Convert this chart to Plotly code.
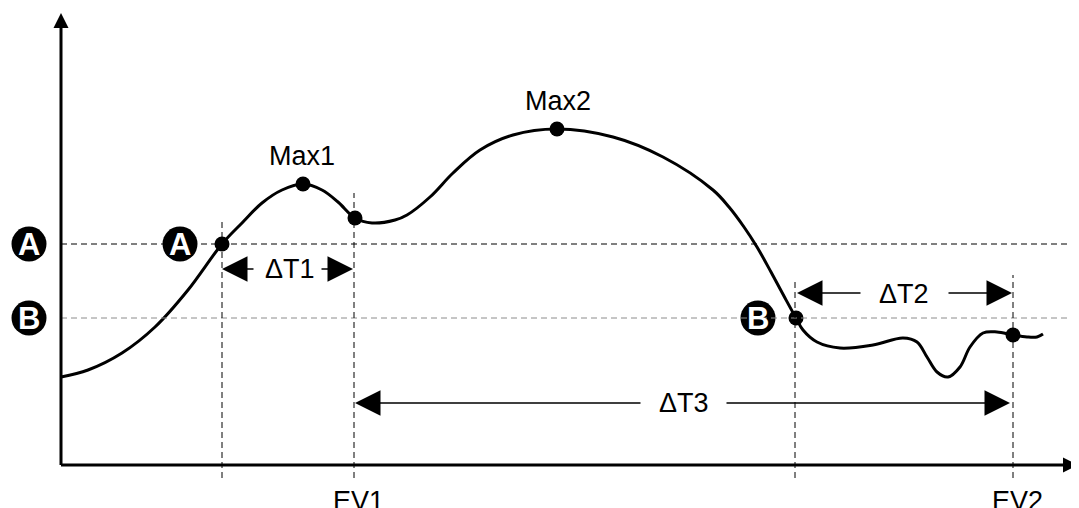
import plotly.graph_objects as go

# curve (time, level)
curve_t = [0, 27, 61, 94, 127, 161, 181, 201, 221, 242, 261, 277, 294, 311, 334, 346, 369, 392,
           419, 452, 496, 552, 602, 652, 668, 683, 696, 710, 724, 735, 742, 756, 779, 812, 842,
           856, 866, 876, 887, 899, 909, 922, 936, 952, 966, 976, 982]
curve_v = [88, 95, 112, 138, 175, 221, 242, 262, 275, 281, 275, 263, 247, 242, 245, 250, 268, 292,
           315, 330, 336, 328, 308, 275, 258, 238, 218, 193, 167, 147, 135, 123, 117, 120, 127,
           123, 108, 93, 88, 98, 118, 132, 133, 130, 128, 128, 131]

# marked points
dot_t = [161, 242, 294, 496, 735, 952]
dot_v = [221, 281, 247, 336, 147, 130]

level_a = 221
level_b = 147
ev_lines = [(161, 245), (293, 272), (734, 185), (952, 190)]

badge_t = [-32, 119, -32, 697]
badge_v = [221, 221, 147, 147]
badge_txt = ["A", "A", "B", "B"]

FONT = "Liberation Sans, Arial, sans-serif"

fig = go.Figure()

# dashed level lines
fig.add_shape(type="line", x0=0, x1=1018, y0=level_a, y1=level_a,
              line=dict(color="black", width=1, dash="6px,4px"))
fig.add_shape(type="line", x0=0, x1=1018, y0=level_b, y1=level_b,
              line=dict(color="#8c8c8c", width=1, dash="6px,4px"))

# vertical event lines
for t, top in ev_lines:
    fig.add_shape(type="line", x0=t, x1=t, y0=-13, y1=top,
                  line=dict(color="black", width=1, dash="6px,4px"))

# curve
fig.add_trace(go.Scatter(x=curve_t, y=curve_v, mode="lines",
                         line=dict(color="black", width=3, shape="spline", smoothing=1.0),
                         hoverinfo="skip"))

fig.add_trace(go.Scatter(x=dot_t, y=dot_v, mode="markers",
                         marker=dict(color="black", size=15), hoverinfo="skip"))

# badges
fig.add_trace(go.Scatter(x=badge_t, y=badge_v, mode="markers",
                         marker=dict(color="black", size=35), hoverinfo="skip"))
for txt, t, v in zip(badge_txt, badge_t, badge_v):
    fig.add_annotation(x=t, y=v, text="<b>" + txt + "</b>", showarrow=False,
                       xref="x", yref="y",
                       font=dict(size=31, color="white", family="Arial, sans-serif"))

# axes with arrows
fig.add_annotation(x=0, y=452, ax=0, ay=-1.5, xref="x", yref="y", axref="x", ayref="y",
                   text="", showarrow=True, arrowhead=2, arrowwidth=3, arrowsize=1,
                   arrowcolor="black")
fig.add_annotation(x=1017, y=0, ax=-1.5, ay=0, xref="x", yref="y", axref="x", ayref="y",
                   text="", showarrow=True, arrowhead=2, arrowwidth=3, arrowsize=1,
                   arrowcolor="black")

# delta arrows: (head, tail, level)
arrows = [(161, 194, 196), (292, 259, 196),
          (736, 801, 172), (951, 886, 172),
          (294, 581, 62), (949, 664, 62)]
for head, tail, lv in arrows:
    fig.add_annotation(x=head, y=lv, ax=tail, ay=lv, xref="x", yref="y", axref="x", ayref="y",
                       text="", showarrow=True, arrowhead=2, arrowwidth=1.5, arrowsize=3.4,
                       arrowcolor="black")

labels = [("Max1", 241, 309), ("Max2", 497, 364), ("ΔT1", 229, 196), ("ΔT2", 843, 171),
          ("ΔT3", 623, 62), ("EV1", 297, -36), ("EV2", 956, -36)]
for txt, t, v in labels:
    fig.add_annotation(x=t, y=v, text=txt, showarrow=False, xref="x", yref="y",
                       font=dict(size=27, color="black", family=FONT))

# page body keeps an 8px margin, so the figure is 8px smaller and ranges shifted
fig.update_xaxes(visible=False, range=[-53, 1018])
fig.update_yaxes(visible=False, range=[-43, 457])
fig.update_layout(width=1071, height=500, margin=dict(l=0, r=0, t=0, b=0),
                  plot_bgcolor="white", paper_bgcolor="white", showlegend=False)

fig.write_html("out.html")
